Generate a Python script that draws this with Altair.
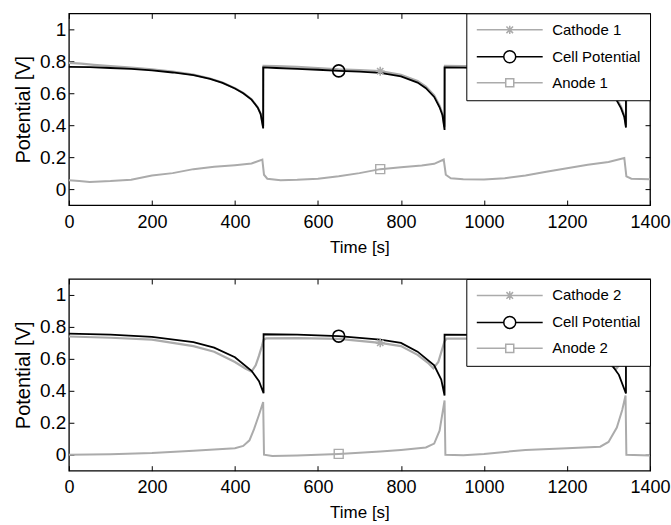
import altair as alt
import pandas as pd

# ---------------- data ----------------
# Top panel
t_cath1 = [0, 30, 60, 100, 150, 200, 250, 300, 340, 370, 400, 420, 440, 455, 462, 468,
           469, 500, 550, 600, 650, 700, 750, 800, 840, 860, 880, 893, 900, 905,
           906, 950, 1000, 1100, 1200, 1250, 1280, 1300, 1315, 1330, 1338, 1342,
           1343, 1400]
v_cath1 = [0.79, 0.785, 0.778, 0.77, 0.76, 0.75, 0.735, 0.717, 0.692, 0.667, 0.632, 0.602, 0.562, 0.512, 0.472, 0.395,
           0.772, 0.77, 0.765, 0.758, 0.75, 0.745, 0.738, 0.715, 0.677, 0.642, 0.587, 0.522, 0.472, 0.39,
           0.772, 0.77, 0.768, 0.755, 0.73, 0.70, 0.665, 0.627, 0.587, 0.517, 0.462, 0.40,
           0.772, 0.77]

t_cell1 = [0, 50, 100, 150, 200, 250, 300, 340, 370, 400, 420, 440, 455, 462, 468,
           468, 500, 550, 600, 650, 700, 750, 800, 840, 860, 880, 893, 900, 905,
           905, 950, 1000, 1100, 1200, 1250, 1280, 1300, 1315, 1330, 1338, 1342,
           1342, 1400]
v_cell1 = [0.765, 0.763, 0.758, 0.752, 0.743, 0.73, 0.713, 0.69, 0.665, 0.63, 0.6, 0.56, 0.51, 0.47, 0.38,
           0.762, 0.758, 0.753, 0.747, 0.74, 0.735, 0.728, 0.705, 0.667, 0.632, 0.577, 0.512, 0.462, 0.37,
           0.762, 0.76, 0.757, 0.745, 0.72, 0.69, 0.655, 0.617, 0.577, 0.507, 0.452, 0.385,
           0.762, 0.76]

t_anod1 = [0, 25, 50, 75, 100, 150, 200, 250, 300, 350, 400, 440, 466,
           470, 478, 510, 550, 600, 650, 700, 750, 800, 850, 880, 903,
           908, 920, 950, 1000, 1050, 1100, 1150, 1200, 1250, 1300, 1338,
           1343, 1355, 1400]
v_anod1 = [0.055, 0.05, 0.045, 0.048, 0.05, 0.058, 0.085, 0.10, 0.125, 0.14, 0.15, 0.16, 0.185,
           0.09, 0.065, 0.055, 0.058, 0.065, 0.08, 0.10, 0.125, 0.137, 0.148, 0.158, 0.185,
           0.09, 0.068, 0.062, 0.06, 0.068, 0.085, 0.108, 0.13, 0.152, 0.17, 0.195,
           0.08, 0.065, 0.062]

# Bottom panel
t_cath2 = [0, 100, 200, 300, 350, 400, 425, 440, 450, 458, 465, 469,
           475, 550, 650, 750, 800, 840, 865, 878, 890, 898, 905,
           910, 1000, 1100, 1200, 1260, 1300, 1318, 1328, 1336, 1342,
           1348, 1400]
v_cath2 = [0.74, 0.732, 0.72, 0.68, 0.645, 0.58, 0.54, 0.52, 0.56, 0.62, 0.68, 0.72,
           0.728, 0.73, 0.725, 0.70, 0.68, 0.625, 0.575, 0.54, 0.58, 0.65, 0.71,
           0.727, 0.727, 0.72, 0.69, 0.64, 0.57, 0.535, 0.57, 0.65, 0.71,
           0.725, 0.725]

t_cell2 = [0, 100, 200, 300, 350, 400, 440, 458, 469,
           469, 550, 650, 750, 800, 840, 880, 897, 905,
           905, 1000, 1100, 1200, 1260, 1300, 1325, 1342,
           1342, 1400]
v_cell2 = [0.758, 0.752, 0.737, 0.705, 0.67, 0.61, 0.525, 0.46, 0.385,
           0.754, 0.752, 0.742, 0.72, 0.70, 0.645, 0.56, 0.47, 0.37,
           0.752, 0.75, 0.74, 0.71, 0.66, 0.59, 0.50, 0.383,
           0.752, 0.75]

t_anod2 = [0, 100, 200, 300, 400, 420, 435, 446, 458, 468,
           470, 490, 550, 650, 750, 800, 860, 880, 893, 905,
           907, 950, 1000, 1100, 1200, 1280, 1300, 1320, 1333, 1341,
           1343, 1400]
v_anod2 = [0.0, 0.003, 0.01, 0.025, 0.04, 0.055, 0.09, 0.16, 0.25, 0.33,
           0.0, -0.008, -0.005, 0.005, 0.02, 0.03, 0.045, 0.07, 0.15, 0.34,
           0.0, -0.003, 0.005, 0.03, 0.04, 0.05, 0.08, 0.17, 0.28, 0.37,
           0.0, -0.005]

# single markers (MATLAB style: one marker per series)
mk1_t = [750, 650, 750]      # cathode, cell, anode (top)
mk1_v = [0.738, 0.74, 0.125]
mk2_t = [750, 650, 650]      # cathode, cell, anode (bottom)
mk2_v = [0.70, 0.742, 0.005]

names1 = ["Cathode 1", "Cell Potential", "Anode 1"]
names2 = ["Cathode 2", "Cell Potential", "Anode 2"]

x_ticks = [0, 200, 400, 600, 800, 1000, 1200, 1400]
y_ticks = [0, 0.2, 0.4, 0.6, 0.8, 1]

# ---------------- style ----------------
FONT = "Liberation Sans"
GRAY = "#ababab"
BLACK = "#000000"
W = 582
H = 192

STAR = "M0,-1L0,1M-1,0L1,0M-0.7,-0.7L0.7,0.7M-0.7,0.7L0.7,-0.7"
# legend symbols: line + marker (unit = 6 px with symbolSize 144)
LEG_STAR = "M-1,0L10,0M4.5,-0.7L4.5,0.7M3.95,-0.55L5.05,0.55M3.95,0.55L5.05,-0.55"
LEG_CIRC = "M-1,0L3.5,0M5.5,0L10,0M5.5,0A1,1 0 1,1 3.5,0A1,1 0 1,1 5.5,0"
LEG_SQR = "M-1,0L3.83,0M5.17,0L10,0M3.83,-0.67L5.17,-0.67L5.17,0.67L3.83,0.67Z"

xs = alt.Scale(domain=[0, 1400], nice=False, zero=False)
ys = alt.Scale(domain=[-0.1, 1.1], nice=False, zero=False)


def df(t, v):
    return pd.DataFrame({"t": t, "v": v, "i": list(range(len(t)))})


def axes_main():
    return (alt.X("t:Q", scale=xs, axis=alt.Axis(orient="bottom", values=x_ticks, ticks=False, domain=False,
                                                 title="Time [s]", labelPadding=8, titlePadding=8, format="d",
                                                 labelFontSize=18, titleFontSize=17, labelFlush=False)),
            alt.Y("v:Q", scale=ys, axis=alt.Axis(orient="left", values=y_ticks, ticks=False, domain=False,
                                                 title="Potential [V]", labelPadding=3, titlePadding=6,
                                                 format="~g", labelFontSize=19, titleFontSize=20)))


def axes_ticks_a():
    # ticks at bottom edge pointing up, ticks at left edge pointing right
    return (alt.X("t:Q", scale=xs, axis=alt.Axis(orient="top", offset=-H, values=x_ticks, labels=False,
                                                 domain=False, title=None, tickSize=5)),
            alt.Y("v:Q", scale=ys, axis=alt.Axis(orient="right", offset=-W, values=y_ticks, labels=False,
                                                 domain=False, title=None, tickSize=5)))


def axes_ticks_b():
    # ticks at top edge pointing down, ticks at right edge pointing left
    return (alt.X("t:Q", scale=xs, axis=alt.Axis(orient="bottom", offset=-H, values=x_ticks, labels=False,
                                                 domain=False, title=None, tickSize=5)),
            alt.Y("v:Q", scale=ys, axis=alt.Axis(orient="left", offset=-W, values=y_ticks, labels=False,
                                                 domain=False, title=None, tickSize=5)))


def plain_axes():
    return (alt.X("t:Q", scale=xs, axis=None), alt.Y("v:Q", scale=ys, axis=None))


def panel(cath, cell, anod, mk_t, mk_v, names):
    x1, y1 = axes_main()
    x2, y2 = axes_ticks_a()
    x3, y3 = axes_ticks_b()
    xp, yp = plain_axes()
    l_anod = alt.Chart(df(*anod)).mark_line(color=GRAY, strokeWidth=2).encode(x=x1, y=y1, order="i:Q")
    l_cath = alt.Chart(df(*cath)).mark_line(color=GRAY, strokeWidth=2.2).encode(x=x2, y=y2, order="i:Q")
    l_cell = alt.Chart(df(*cell)).mark_line(color=BLACK, strokeWidth=1.8).encode(x=x3, y=y3, order="i:Q")
    m_cath = alt.Chart(df([mk_t[0]], [mk_v[0]])).mark_point(shape=STAR, size=81, filled=False, color=GRAY,
                                                           strokeWidth=1.6, opacity=1).encode(x=xp, y=yp)
    m_cell = alt.Chart(df([mk_t[1]], [mk_v[1]])).mark_point(shape="circle", size=144, filled=False, color=BLACK,
                                                           strokeWidth=1.6, opacity=1).encode(x=xp, y=yp)
    m_anod = alt.Chart(df([mk_t[2]], [mk_v[2]])).mark_point(shape="square", size=81, filled=False, color=GRAY,
                                                           strokeWidth=1.4, opacity=1).encode(x=xp, y=yp)
    leg_df = pd.DataFrame({"series": names})
    legend = alt.Chart(leg_df).mark_point(filled=False, opacity=1).encode(
        stroke=alt.Stroke("series:N", scale=alt.Scale(domain=names, range=[GRAY, BLACK, GRAY]), title=None,
                          legend=alt.Legend(orient="top-right", offset=0, fillColor="white", strokeColor="black",
                                            padding=9, labelFont=FONT, labelFontSize=15, labelColor="black",
                                            symbolSize=144, labelOffset=62, rowPadding=9, symbolStrokeWidth=1.5,
                                            symbolFillColor="transparent", labelLimit=300)),
        shape=alt.Shape("series:N", scale=alt.Scale(domain=names, range=[LEG_STAR, LEG_CIRC, LEG_SQR]), title=None),
    ).transform_filter("false")
    return alt.layer(l_anod, l_cath, l_cell, m_cath, m_cell, m_anod, legend).resolve_axis(
        x="independent", y="independent").properties(width=W, height=H)


top = panel((t_cath1, v_cath1), (t_cell1, v_cell1), (t_anod1, v_anod1), mk1_t, mk1_v, names1)
bottom = panel((t_cath2, v_cath2), (t_cell2, v_cell2), (t_anod2, v_anod2), mk2_t, mk2_v, names2)

chart = alt.vconcat(top, bottom, spacing=21).resolve_scale(
    stroke="independent", shape="independent").properties(
    padding={"left": 12, "top": 11, "right": 0, "bottom": 0}, background="white"
).configure_view(stroke="black", strokeWidth=1.3).configure_axis(
    labelFont=FONT, titleFont=FONT, labelColor="black", titleColor="black", titleFontWeight="normal",
    grid=False, tickColor="black", tickWidth=1)

chart.save("out.html", embed_options={"renderer": "svg", "actions": False})
